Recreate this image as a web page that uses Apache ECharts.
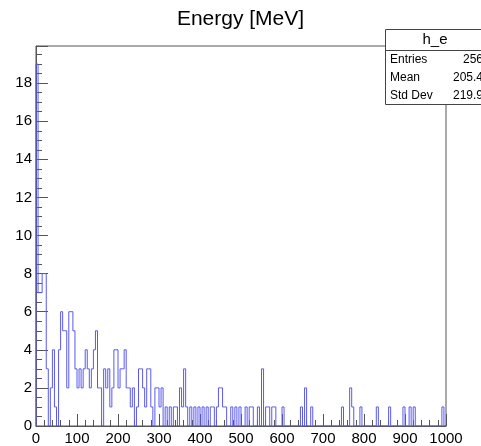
<!DOCTYPE html>
<html>
<head>
<meta charset="utf-8">
<script src="https://cdn.jsdelivr.net/npm/echarts@6/dist/echarts.min.js"></script>
<style>
html,body{margin:0;padding:0;background:#fff;}
#chart{width:481px;height:446px;}
</style>
</head>
<body>
<div id="chart"></div>
<script>
// ---- data ----
const chartTitle = "Energy [MeV]";
const histName = "h_e";
const xMin = 0;
const xMax = 1000;
const binWidth = 5;
const yMax = 19.95;
const counts = [
  19,7,7,8,8,3,0,2,4,1,
  0,4,6,5,5,2,6,6,5,3,
  2,3,2,3,4,3,2,3,4,5,
  2,2,0,3,2,3,1,2,4,4,
  2,3,3,4,2,2,1,2,0,1,
  3,3,2,1,3,3,1,0,2,2,
  1,2,0,1,0,1,0,1,1,0,
  2,1,3,1,0,1,0,1,0,1,
  0,1,0,1,0,1,1,0,1,2,
  2,1,1,0,0,1,0,1,0,1,
  0,0,1,0,1,1,0,0,1,0,
  3,0,1,1,0,1,1,0,0,0,
  1,0,0,0,0,0,0,0,0,1,
  0,2,0,0,1,0,0,0,0,0,
  0,0,0,0,0,0,0,0,0,1,
  0,0,0,2,1,0,0,0,1,0,
  0,0,0,0,0,0,1,0,0,0,
  0,0,1,0,0,0,0,0,0,1,
  0,0,1,0,1,0,0,0,0,0,
  0,0,0,0,0,0,0,0,1,0
];
const statLabels = ["Entries", "Mean", "Std Dev"];
const statValues = ["256", "205.4", "219.9"];

// ---- build step outline ----
const pts = [[xMin, 0]];
counts.forEach((c, i) => pts.push([xMin + i * binWidth, c]));
pts.push([xMax, counts[counts.length - 1]]);
pts.push([xMax, 0]);

const font = "'Liberation Sans', Arial, Helvetica, sans-serif";
const chart = echarts.init(document.getElementById('chart'), null, {renderer: 'canvas'});

const statRowsY = [60, 78, 96];
const graphics = [
  {type: 'rect', shape: {x: 385.5, y: 29.5, width: 120, height: 75},
   style: {fill: '#fff', stroke: '#444', lineWidth: 1}, z: 10},
  {type: 'line', shape: {x1: 385.5, y1: 50.5, x2: 481, y2: 50.5},
   style: {stroke: '#444', lineWidth: 1}, z: 11},
  {type: 'text', x: 435, y: 40, style: {text: histName, font: '15px ' + font, fill: '#000', align: 'center', verticalAlign: 'middle'}, z: 12}
];
statLabels.forEach((l, i) => {
  graphics.push({type: 'text', x: 390, y: statRowsY[i], style: {text: l, font: '12px ' + font, fill: '#000', align: 'left', verticalAlign: 'middle'}, z: 12});
  graphics.push({type: 'text', x: 483, y: statRowsY[i], style: {text: statValues[i], font: '12px ' + font, fill: '#000', align: 'right', verticalAlign: 'middle'}, z: 12});
});

chart.setOption({
  animation: false,
  backgroundColor: '#fff',
  title: {
    text: chartTitle, left: 'center', top: 4,
    textStyle: {fontFamily: font, fontSize: 21, fontWeight: 'normal', color: '#000'}
  },
  grid: {left: 36, right: 35, top: 46, bottom: 20, show: true, borderColor: '#555', borderWidth: 1, backgroundColor: 'transparent'},
  xAxis: {
    type: 'value', min: xMin, max: xMax, interval: 100,
    axisLine: {show: true, lineStyle: {color: '#555', width: 1}},
    axisTick: {show: true, inside: true, length: 12, lineStyle: {color: '#555'}},
    minorTick: {show: true, splitNumber: 5, length: 6, lineStyle: {color: '#555'}},
    splitLine: {show: false},
    axisLabel: {fontFamily: font, fontSize: 15, color: '#000', margin: 5, showMaxLabel: true, showMinLabel: true,
      formatter: v => String(v)}
  },
  yAxis: {
    type: 'value', min: 0, max: yMax, interval: 2,
    axisLine: {show: true, lineStyle: {color: '#555', width: 1}},
    axisTick: {show: true, inside: true, length: 12, lineStyle: {color: '#555'}},
    minorTick: {show: true, splitNumber: 4, length: 6, lineStyle: {color: '#555'}},
    splitLine: {show: false},
    axisLabel: {fontFamily: font, fontSize: 15, color: '#000', margin: 4, showMaxLabel: false,
      formatter: v => String(v)}
  },
  series: [{
    type: 'line', step: 'end', data: pts, symbol: 'none',
    lineStyle: {color: '#5a5aee', width: 1},
    itemStyle: {color: '#5a5aee'},
    silent: true, z: 5
  }],
  graphic: graphics
});
</script>
</body>
</html>
